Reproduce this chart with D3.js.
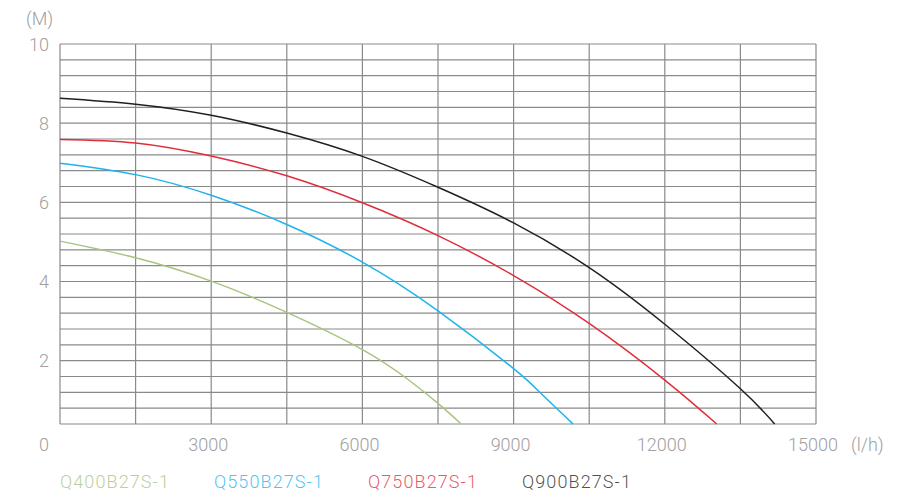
<!DOCTYPE html>
<meta charset="UTF-8">
<script src="https://d3js.org/d3.v7.min.js"></script>
<style>
body { margin: 0; background: #fff; }
text { font-family: Roboto, "Liberation Sans", sans-serif; font-weight: 300; }
</style>
<div id="chart"></div>
<script>
// pump curves: flow (l/h) vs head (M)
var models = ["Q400B27S-1", "Q550B27S-1", "Q750B27S-1", "Q900B27S-1"]
var colors = ["#a8c47e", "#1db4ec", "#df2e3a", "#231f20"]

var q400Flow = [0, 1500, 3000, 4500, 6000, 6900, 7500, 7960]
var q400Head = [5.02, 4.60, 4.01, 3.22, 2.28, 1.53, 0.92, 0.40]

var q550Flow = [0, 1500, 3000, 4500, 6000, 7500, 9000, 9520, 10180]
var q550Head = [6.99, 6.70, 6.18, 5.44, 4.49, 3.26, 1.80, 1.20, 0.40]

var q750Flow = [0, 1500, 3000, 4500, 6000, 7500, 9000, 10500, 12000, 13030]
var q750Head = [7.59, 7.50, 7.17, 6.67, 5.99, 5.16, 4.15, 2.94, 1.51, 0.40]

var q900Flow = [0, 1500, 3000, 4500, 6000, 7500, 9000, 10500, 12000, 13500, 14180]
var q900Head = [8.63, 8.48, 8.20, 7.75, 7.16, 6.38, 5.48, 4.35, 2.92, 1.29, 0.40]

var xTicks = [0, 3000, 6000, 9000, 12000, 15000]
var yTicks = [2, 4, 6, 8, 10]

var width = 900
var height = 500

var svg = d3.select("#chart")
    .append("svg")
        .attr("width", width)
        .attr("height", height)

var x = d3.scaleLinear().domain([0, 15000]).range([60, 816])
var y = d3.scaleLinear().domain([0.4, 10]).range([424, 44])

// grid: vertical every 1500, horizontal every 0.4
var grid = svg.append("g")
    .attr("stroke", "#8a8a8a")
    .attr("stroke-width", 1.2)
    .attr("fill", "none")

grid.selectAll("line.v")
    .data(d3.range(0, 15001, 1500))
    .enter()
    .append("line")
        .attr("class", "v")
        .attr("x1", function(d){ return x(d) })
        .attr("x2", function(d){ return x(d) })
        .attr("y1", y(0.4))
        .attr("y2", y(10))

grid.selectAll("line.h")
    .data(d3.range(1, 26).map(function(i){ return i * 0.4 }))
    .enter()
    .append("line")
        .attr("class", "h")
        .attr("x1", x(0))
        .attr("x2", x(15000))
        .attr("y1", function(d){ return y(d) })
        .attr("y2", function(d){ return y(d) })

// curves
var series = [
    {name: models[0], flow: q400Flow, head: q400Head},
    {name: models[1], flow: q550Flow, head: q550Head},
    {name: models[2], flow: q750Flow, head: q750Head},
    {name: models[3], flow: q900Flow, head: q900Head}
]

var line = d3.line()
    .x(function(d){ return x(d[0]) })
    .y(function(d){ return y(d[1]) })
    .curve(d3.curveNatural)

svg.append("g")
    .selectAll("path")
    .data(series)
    .enter()
    .append("path")
        .attr("fill", "none")
        .attr("stroke", function(d, i){ return colors[i] })
        .attr("stroke-width", 1.5)
        .attr("d", function(d){ return line(d3.zip(d.flow, d.head)) })

// axis labels
svg.append("g")
    .selectAll("text")
    .data(yTicks)
    .enter()
    .append("text")
        .attr("x", 49)
        .attr("y", function(d){ return y(d) + 6.5 })
        .attr("text-anchor", "end")
        .attr("font-size", 18)
        .attr("fill", "#a0a0a0")
        .text(function(d){ return d })

svg.append("g")
    .selectAll("text")
    .data(xTicks)
    .enter()
    .append("text")
        .attr("x", function(d){ return d === 0 ? x(d) - 16 : x(d) - 3 })
        .attr("y", 451)
        .attr("text-anchor", "middle")
        .attr("font-size", 18)
        .attr("fill", "#a0a0a0")
        .text(function(d){ return d })

svg.append("text")
    .attr("x", 26)
    .attr("y", 25)
    .attr("font-size", 18)
    .attr("fill", "#a0a0a0")
    .text("(M)")

svg.append("text")
    .attr("x", 851)
    .attr("y", 451)
    .attr("font-size", 18)
    .attr("fill", "#a0a0a0")
    .text("(l/h)")

// legend
svg.append("g")
    .selectAll("text")
    .data(models)
    .enter()
    .append("text")
        .attr("x", function(d, i){ return 60 + i * 154 })
        .attr("y", 488)
        .attr("font-size", 18)
        .attr("letter-spacing", 1.1)
        .attr("fill", function(d, i){ return colors[i] })
        .attr("fill-opacity", 0.8)
        .text(function(d){ return d })

</script>
